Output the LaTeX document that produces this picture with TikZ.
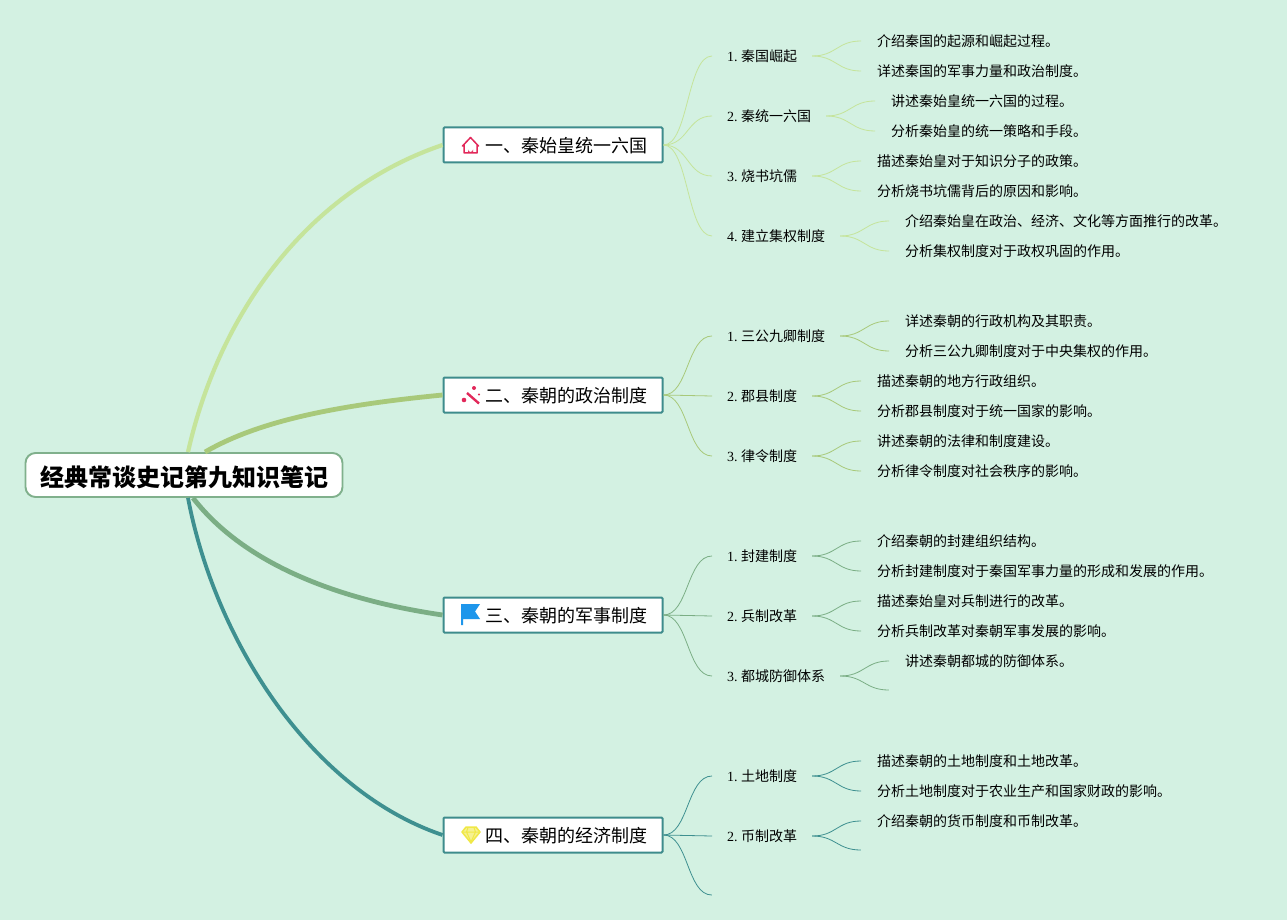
\documentclass[tikz,border=0pt]{standalone}
\usepackage{fontspec}
\usepackage{xcolor}
\setmainfont{Liberation Serif}
\newfontfamily\cjk{Noto Sans CJK SC}
\usetikzlibrary{positioning}
\definecolor{mintbg}{RGB}{211, 241, 226}
\definecolor{boxteal}{RGB}{62, 140, 140}
\definecolor{rootrim}{RGB}{128, 176, 140}
\definecolor{lineone}{RGB}{197, 228, 155}
\definecolor{linetwo}{RGB}{168, 201, 122}
\definecolor{linethree}{RGB}{123, 174, 133}
\definecolor{linefour}{RGB}{62, 144, 144}
\definecolor{iconred}{RGB}{226, 40, 90}
\definecolor{iconblue}{RGB}{30, 150, 235}
\definecolor{iconyellow}{RGB}{240, 232, 70}
\tikzset{
    rootbox/.style={draw=rootrim, fill=white, line width=1.9pt, rounded corners=10pt, minimum width=317pt, minimum height=44pt, inner sep=0pt, text height=22.6pt, text depth=0pt, font=\fontsize{24}{28}\selectfont\cjk\bfseries},
    branchbox/.style={draw=boxteal, fill=white, line width=2pt, rounded corners=1pt, minimum width=219pt, minimum height=35pt, inner sep=0pt, text height=15.6pt, text depth=0pt, font=\fontsize{18}{22}\selectfont\cjk},
    topicnode/.style={anchor=west, inner xsep=15pt, inner ysep=0pt, font=\fontsize{14}{16}\selectfont},
    leafnode/.style={anchor=west, inner xsep=16pt, inner ysep=0pt, font=\fontsize{14}{16}\selectfont\cjk},
    freeend/.style={inner sep=0pt, minimum size=0pt},
    curveline/.style={line width=0.8pt}
}
\newcommand{\numgap}{\hspace{3.3pt}}
\begin{document}
\begin{tikzpicture}[x=1pt, y=-1pt]
    % Background
    \fill[mintbg] (0,0) rectangle (1287,920);

    % Root
    \node[rootbox] (root) at (184,475) {经典常谈史记第九知识笔记};

    % Branches
    \node[branchbox] (bone) at (553,145) {\hspace*{42pt}一、秦始皇统一六国\hspace*{15pt}};
    \node[branchbox] (btwo) at (553,395) {\hspace*{42pt}二、秦朝的政治制度\hspace*{15pt}};
    \node[branchbox] (bthree) at (553,615) {\hspace*{42pt}三、秦朝的军事制度\hspace*{15pt}};
    \node[branchbox] (bfour) at (553,835) {\hspace*{42pt}四、秦朝的经济制度\hspace*{15pt}};

    % Root to branches
    \draw[lineone, line width=4.2pt] ([xshift=4pt]root.north) .. controls (220,310) and (310,190) .. (bone.west);
    \draw[linetwo, line width=4.8pt] ([xshift=21pt]root.north) .. controls (260,420) and (340,405) .. (btwo.west);
    \draw[linethree, line width=4.8pt] ([xshift=9pt]root.south) .. controls (245,565) and (340,600) .. (bthree.west);
    \draw[linefour, line width=3.8pt] ([xshift=4pt]root.south) .. controls (215,640) and (310,790) .. (bfour.west);

    % Topics
    \node[topicnode] (t11) at (712,56) {1.\numgap{\cjk 秦国崛起}};
    \node[topicnode] (t12) at (712,116) {2.\numgap{\cjk 秦统一六国}};
    \node[topicnode] (t13) at (712,176) {3.\numgap{\cjk 烧书坑儒}};
    \node[topicnode] (t14) at (712,236) {4.\numgap{\cjk 建立集权制度}};
    \node[topicnode] (t21) at (712,336) {1.\numgap{\cjk 三公九卿制度}};
    \node[topicnode] (t22) at (712,396) {2.\numgap{\cjk 郡县制度}};
    \node[topicnode] (t23) at (712,456) {3.\numgap{\cjk 律令制度}};
    \node[topicnode] (t31) at (712,556) {1.\numgap{\cjk 封建制度}};
    \node[topicnode] (t32) at (712,616) {2.\numgap{\cjk 兵制改革}};
    \node[topicnode] (t33) at (712,676) {3.\numgap{\cjk 都城防御体系}};
    \node[topicnode] (t41) at (712,776) {1.\numgap{\cjk 土地制度}};
    \node[topicnode] (t42) at (712,836) {2.\numgap{\cjk 币制改革}};
    \node[freeend] (t43) at (712,895) {};

    % Leaves
    \node[leafnode] (l111) at (861,41) {介绍秦国的起源和崛起过程。};
    \node[leafnode] (l112) at (861,71) {详述秦国的军事力量和政治制度。};
    \node[leafnode] (l121) at (875,101) {讲述秦始皇统一六国的过程。};
    \node[leafnode] (l122) at (875,131) {分析秦始皇的统一策略和手段。};
    \node[leafnode] (l131) at (861,161) {描述秦始皇对于知识分子的政策。};
    \node[leafnode] (l132) at (861,191) {分析烧书坑儒背后的原因和影响。};
    \node[leafnode] (l141) at (889,221) {介绍秦始皇在政治、经济、文化等方面推行的改革。};
    \node[leafnode] (l142) at (889,251) {分析集权制度对于政权巩固的作用。};
    \node[leafnode] (l211) at (889,321) {详述秦朝的行政机构及其职责。};
    \node[leafnode] (l212) at (889,351) {分析三公九卿制度对于中央集权的作用。};
    \node[leafnode] (l221) at (861,381) {描述秦朝的地方行政组织。};
    \node[leafnode] (l222) at (861,411) {分析郡县制度对于统一国家的影响。};
    \node[leafnode] (l231) at (861,441) {讲述秦朝的法律和制度建设。};
    \node[leafnode] (l232) at (861,471) {分析律令制度对社会秩序的影响。};
    \node[leafnode] (l311) at (861,541) {介绍秦朝的封建组织结构。};
    \node[leafnode] (l312) at (861,571) {分析封建制度对于秦国军事力量的形成和发展的作用。};
    \node[leafnode] (l321) at (861,601) {描述秦始皇对兵制进行的改革。};
    \node[leafnode] (l322) at (861,631) {分析兵制改革对秦朝军事发展的影响。};
    \node[leafnode] (l331) at (889,661) {讲述秦朝都城的防御体系。};
    \node[freeend] (l332) at (889,690) {};
    \node[leafnode] (l411) at (861,761) {描述秦朝的土地制度和土地改革。};
    \node[leafnode] (l412) at (861,791) {分析土地制度对于农业生产和国家财政的影响。};
    \node[leafnode] (l421) at (861,821) {介绍秦朝的货币制度和币制改革。};
    \node[freeend] (l422) at (861,850) {};

    % Branch to topic lines
    \foreach \a/\b/\c in {bone/t11/lineone, bone/t12/lineone, bone/t13/lineone, bone/t14/lineone,
                          btwo/t21/linetwo, btwo/t22/linetwo, btwo/t23/linetwo,
                          bthree/t31/linethree, bthree/t32/linethree, bthree/t33/linethree,
                          bfour/t41/linefour, bfour/t42/linefour, bfour/t43/linefour} {
        \draw[curveline, \c] (\a.east) .. controls +(25,0) and +(-25,0) .. (\b.west);
    }

    % Topic to leaf lines
    \foreach \a/\b/\c in {t11/l111/lineone, t11/l112/lineone, t12/l121/lineone, t12/l122/lineone,
                          t13/l131/lineone, t13/l132/lineone, t14/l141/lineone, t14/l142/lineone,
                          t21/l211/linetwo, t21/l212/linetwo, t22/l221/linetwo, t22/l222/linetwo,
                          t23/l231/linetwo, t23/l232/linetwo,
                          t31/l311/linethree, t31/l312/linethree, t32/l321/linethree, t32/l322/linethree,
                          t33/l331/linethree, t33/l332/linethree,
                          t41/l411/linefour, t41/l412/linefour, t42/l421/linefour, t42/l422/linefour} {
        \draw[curveline, \c] (\a.east) .. controls +(24,0) and +(-24,0) .. (\b.west);
    }

    % Icon: house
    \draw[iconred, line width=1.5pt, line join=round, line cap=round] (462.5,146) -- (470.5,137.5) -- (478.5,146) (464,145) -- (464,153) -- (477,153) -- (477,145);
    \fill[iconred] (468,153) -- (468,149.5) arc (180:0:2.5) -- (473,153) -- cycle;

    % Icon: wand
    \draw[iconred, line width=2.4pt] (467,393) -- (479,403.5);
    \fill[iconred] (474,388) circle (2) (464,400) circle (2.3) (479,394.5) circle (1.1);

    % Icon: flag
    \fill[iconblue] (461,604) -- (480,604) -- (475,611.5) -- (480,619) -- (463,619) -- (463,625) -- (461,625) -- cycle;

    % Icon: diamond
    \draw[iconyellow, line width=1.5pt, line join=round, fill=iconyellow!60] (466,827) -- (476,827) -- (480,832) -- (471,843) -- (462,832) -- cycle;
    \draw[iconyellow, line width=1pt] (462,832) -- (480,832) (468,827.5) -- (466.5,832) -- (471,842) -- (475.5,832) -- (474,827.5);
\end{tikzpicture}
\end{document}
